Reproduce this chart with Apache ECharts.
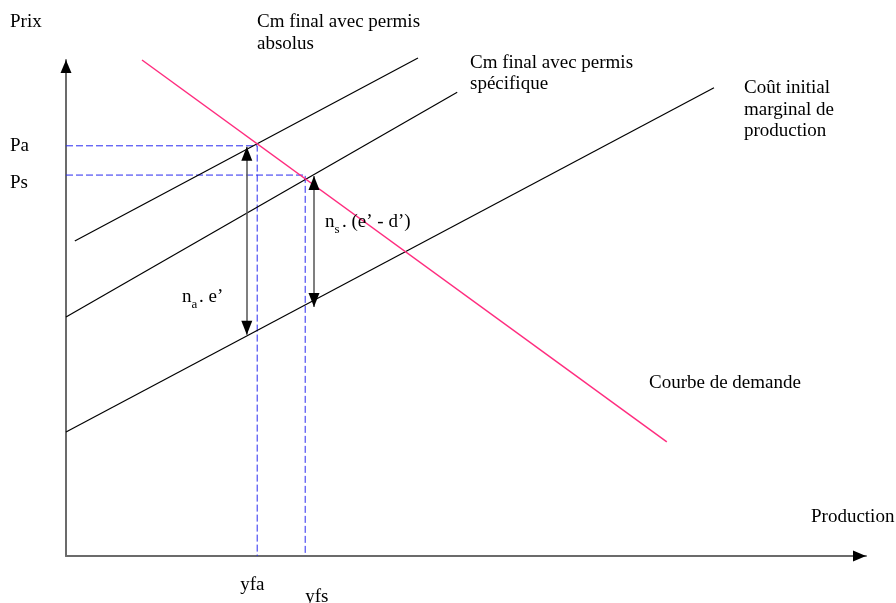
<!DOCTYPE html>
<html><head><meta charset="utf-8">
<script src="https://cdn.jsdelivr.net/npm/echarts@6/dist/echarts.min.js"></script>
<style>html,body{margin:0;padding:0;background:#fff}#c{width:896px;height:603px}</style>
</head><body><div id="c"></div>
<script>
// ---- data (abstract units: x 0..100 production, y 0..100 prix) ----
const xRange = [0, 100];
const yRange = [0, 100];
const demandX = [9.5, 75.1];
const demandY = [100.0, 23.0];
const absoluX = [1.1, 44.0];
const absoluY = [63.5, 100.4];
const specifiqueX = [0, 48.9];
const specifiqueY = [48.2, 93.5];
const coutX = [0, 81.0];
const coutY = [25.0, 94.4];
const priceLevels = [82.7, 76.8];      // Pa, Ps
const priceLabels = ['Pa', 'Ps'];
const outputLevels = [23.9, 29.9];     // yfa, yfs
const outputLabels = ['yfa', 'yfs'];
const arrowX = [22.6, 31.0];           // na.e', ns.(e'-d')
const arrowTop = [82.5, 76.6];
const arrowBottom = [44.6, 50.2];

const FONT = '"Liberation Serif", "Times New Roman", serif';
const FS = 19;

function zip(xs, ys) { return xs.map((x, i) => [x, ys[i]]); }

const chart = echarts.init(document.getElementById('c'), null, {renderer: 'canvas'});

const dashStyle = {color: '#2a2af0', width: 1, type: [7, 3]};
const dashedSeries = priceLevels.map((p, i) => ({
  type: 'line', silent: true, symbol: 'none', clip: false,
  data: [[xRange[0], p], [outputLevels[i], p], [outputLevels[i], yRange[0]]],
  lineStyle: dashStyle, z: 1
}));

function plainLine(xs, ys, color, width) {
  return {type: 'line', silent: true, symbol: 'none', clip: false,
    data: zip(xs, ys), lineStyle: {color: color, width: width}, z: 2};
}

const shafts = arrowX.map((x, i) => [{coord: [x, arrowTop[i]]}, {coord: [x, arrowBottom[i]]}]);

const option = {
  animation: false,
  backgroundColor: '#fff',
  grid: {left: 66, right: 30, top: 60, bottom: 47},
  xAxis: {type: 'value', min: xRange[0], max: xRange[1],
    axisLine: {show: true, onZero: false, lineStyle: {color: '#6b6b6b', width: 2}},
    axisTick: {show: false}, axisLabel: {show: false}, splitLine: {show: false}},
  yAxis: {type: 'value', min: yRange[0], max: yRange[1],
    axisLine: {show: true, onZero: false, lineStyle: {color: '#6b6b6b', width: 2}},
    axisTick: {show: false}, axisLabel: {show: false}, splitLine: {show: false}},
  series: [
    ...dashedSeries,
    plainLine(absoluX, absoluY, '#000', 1.2),
    plainLine(specifiqueX, specifiqueY, '#000', 1.2),
    plainLine(coutX, coutY, '#000', 1.2),
    plainLine(demandX, demandY, '#ff2d7f', 1.5),
    // arrow shafts (grey)
    {type: 'line', data: [], silent: true,
      markLine: {silent: true, animation: false, symbol: ['none', 'none'],
        lineStyle: {color: '#555', width: 1.5, type: 'solid'}, label: {show: false},
        data: shafts}},
    // arrow heads (black)
    {type: 'line', data: [], silent: true,
      markLine: {silent: true, animation: false, symbol: ['triangle', 'triangle'],
        symbolSize: [11, 14], symbolOffset: [[0, 7], [0, 7]],
        lineStyle: {color: '#000', width: 0, type: 'solid'}, label: {show: false},
        data: shafts}},
    // axis arrow heads
    {type: 'line', data: [], silent: true,
      markLine: {silent: true, animation: false, symbol: ['none', 'triangle'],
        symbolSize: [11, 13], symbolOffset: [[0, 0], [0, 6.5]],
        lineStyle: {color: '#000', width: 0, type: 'solid'}, label: {show: false},
        data: [
          [{coord: [xRange[0], yRange[0]]}, {coord: [xRange[1], yRange[0]]}],
          [{coord: [xRange[0], yRange[0]]}, {coord: [xRange[0], yRange[1]]}]
        ]}}
  ]
};
chart.setOption(option);

function txt(text, x, y, size) {
  return {type: 'text', silent: true, z: 10,
    style: {text: text, x: x, y: y, font: (size || FS) + 'px ' + FONT, fill: '#000',
      verticalAlign: 'middle', align: 'left'}};
}
const px = (x, y) => chart.convertToPixel({gridIndex: 0}, [x, y]);

const g = [
  txt('Prix', 10, 22),
  txt('Cm final avec permis', 257, 22),
  txt('absolus', 257, 44),
  txt('Cm final avec permis', 470, 63),
  txt('spécifique', 470, 84),
  txt('Coût initial', 744, 88),
  txt('marginal de', 744, 110),
  txt('production', 744, 131),
  txt('Courbe de demande', 649, 383),
  txt('Production', 811, 517)
];
const priceOffsets = [0, 8];
priceLevels.forEach((p, i) => {
  const pt = px(0, p);
  g.push(txt(priceLabels[i], 10, pt[1] + priceOffsets[i]));
});
const outputDx = [-17, 0];
const outputDy = [29, 41];
outputLevels.forEach((o, i) => {
  const pt = px(o, 0);
  g.push(txt(outputLabels[i], pt[0] + outputDx[i], pt[1] + outputDy[i]));
});
// n_a . e'
g.push(txt('n', 182, 297), txt('a', 191.5, 305, 13), txt('. e’', 199, 297));
// n_s . (e' - d')
g.push(txt('n', 325, 222), txt('s', 334.5, 230, 13), txt('. (e’ - d’)', 342, 222));

chart.setOption({graphic: g});
</script>
</body></html>
